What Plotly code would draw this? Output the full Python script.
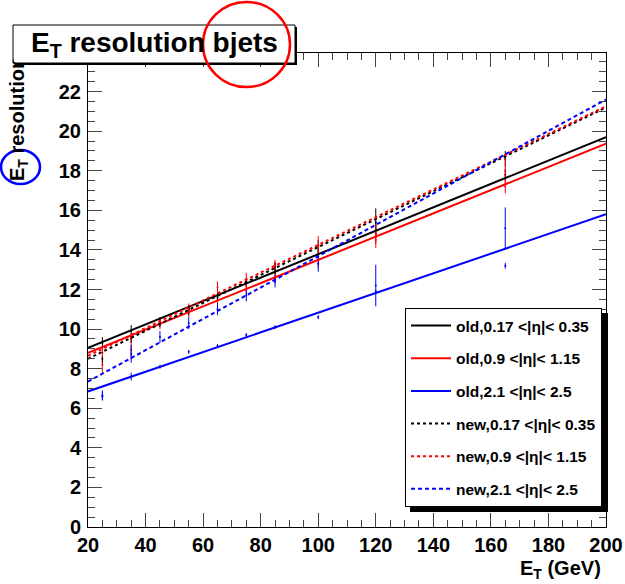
import plotly.graph_objects as go

# ---------------- data ----------------
fit_x = [20, 200]
fit_old_black = [9.05, 19.7]
fit_old_red = [8.8, 19.37]
fit_old_blue = [6.85, 15.8]
fit_new_black = [8.5, 21.2]
fit_new_red = [8.65, 21.26]
fit_new_blue = [7.35, 21.6]

pt_x = [25, 35, 45, 55, 65, 75, 85, 100, 120, 165]
pt_old_black = [9.3, 9.9, 10.4, 11.0, 11.6, 12.3, 13.0, 13.8, 15.0, 17.8]
err_old_black = [0.3, 0.3, 0.2, 0.2, 0.2, 0.25, 0.35, 0.3, 0.4, 0.3]
pt_old_red = [8.2, 8.95, 10.3, 10.9, 11.5, 12.0, 12.6, 13.5, 14.5, 17.2]
err_old_red = [0.4, 0.5, 0.3, 0.3, 0.25, 0.3, 0.3, 0.4, 0.4, 0.35]
pt_old_blue = [6.65, 7.6, 8.1, 8.85, 9.15, 9.7, 10.1, 10.6, 11.9, 13.2]
err_old_blue = [0.25, 0.2, 0.1, 0.1, 0.1, 0.1, 0.1, 0.1, 0.1, 0.15]
pt_new_black = [8.5, 9.5, 10.3, 10.9, 11.7, 12.4, 13.1, 14.2, 15.4, 18.6]
err_new_black = [0.2, 0.2, 0.2, 0.2, 0.2, 0.2, 0.3, 0.3, 0.7, 0.4]
pt_new_red = [8.8, 9.6, 10.4, 11.1, 12.1, 12.5, 13.2, 14.2, 14.8, 18.0]
err_new_red = [0.2, 0.2, 0.2, 0.2, 0.3, 0.35, 0.3, 0.5, 0.5, 0.65]
pt_new_blue = [6.6, 8.75, 9.6, 10.3, 11.0, 11.7, 12.4, 13.3, 12.2, 15.1]
err_new_blue = [0.2, 0.45, 0.3, 0.3, 0.3, 0.3, 0.3, 0.4, 1.05, 1.05]

labels = ["old,0.17 <|η|< 0.35", "old,0.9 <|η|< 1.15", "old,2.1 <|η|< 2.5",
          "new,0.17 <|η|< 0.35", "new,0.9 <|η|< 1.15", "new,2.1 <|η|< 2.5"]

x_ticks = [20, 40, 60, 80, 100, 120, 140, 160, 180, 200]
y_ticks = [0, 2, 4, 6, 8, 10, 12, 14, 16, 18, 20, 22]

FONT = "Liberation Sans"

series = [
    (fit_old_black, pt_old_black, err_old_black, "#000000", "solid"),
    (fit_old_red, pt_old_red, err_old_red, "#ff0000", "solid"),
    (fit_old_blue, pt_old_blue, err_old_blue, "#0000ff", "solid"),
    (fit_new_black, pt_new_black, err_new_black, "#000000", "3px,3px"),
    (fit_new_red, pt_new_red, err_new_red, "#ff0000", "3px,3px"),
    (fit_new_blue, pt_new_blue, err_new_blue, "#0000ff", "4px,3px"),
]

fig = go.Figure()
for i, (fit, pts, err, col, dash) in enumerate(series):
    fig.add_trace(go.Scatter(
        x=pt_x, y=pts, mode="markers",
        marker=dict(size=2, color=col),
        error_y=dict(type="data", array=err, visible=True, color=col, thickness=1, width=0),
        showlegend=False, hoverinfo="skip"))
for i, (fit, pts, err, col, dash) in enumerate(series):
    fig.add_trace(go.Scatter(
        x=fit_x, y=fit, mode="lines", name=labels[i],
        line=dict(color=col, width=2, dash=dash),
        legendgroup=str(i), showlegend=True))

def px_x(p):
    return (p - 88) / 518.0

def px_y(p):
    return (527 - p) / 474.0

shapes = [
    # title box shadow + box
    dict(type="rect", xref="paper", yref="paper", x0=px_x(15), x1=px_x(297), y0=px_y(65), y1=px_y(27),
         fillcolor="black", line=dict(width=0), layer="above"),
    dict(type="rect", xref="paper", yref="paper", x0=px_x(13), x1=px_x(295), y0=px_y(63), y1=px_y(25),
         fillcolor="white", line=dict(color="black", width=1), layer="above"),
    # legend shadow
    dict(type="rect", xref="paper", yref="paper", x0=px_x(410), x1=px_x(608), y0=px_y(512), y1=px_y(313),
         fillcolor="black", line=dict(width=0), layer="above"),
    # highlight circles
    dict(type="circle", xref="paper", yref="paper", x0=px_x(203), x1=px_x(290), y0=px_y(87), y1=px_y(2),
         line=dict(color="#ff0000", width=2.5), layer="above"),
    dict(type="circle", xref="paper", yref="paper", x0=px_x(1), x1=px_x(40), y0=px_y(184), y1=px_y(150),
         line=dict(color="#0000ff", width=2.5), layer="above"),
]

annotations = [
    dict(text="<b>E<sub>T</sub> resolution</b>", xref="paper", yref="paper",
         x=px_x(18), y=px_y(183), xanchor="center", yanchor="bottom", textangle=-90,
         showarrow=False, font=dict(family=FONT, size=20, color="black")),
    dict(text=" ", xref="paper", yref="paper", x=px_x(22), y=px_y(44), xanchor="center", yanchor="middle",
         width=16, height=36, bgcolor="white", borderpad=0, borderwidth=0, showarrow=False),
    dict(text="<b>E<sub>T</sub> resolution bjets</b>", xref="paper", yref="paper",
         x=px_x(154), y=px_y(45), xanchor="center", yanchor="middle",
         showarrow=False, font=dict(family=FONT, size=28, color="black")),
    dict(text="<b>E<sub>T</sub> (GeV)</b>", xref="paper", yref="paper",
         x=px_x(603), y=px_y(569), xanchor="right", yanchor="middle",
         showarrow=False, font=dict(family=FONT, size=20, color="black")),
]

axis_common = dict(
    showline=True, linecolor="black", linewidth=1, mirror="allticks",
    ticks="inside", ticklen=14, tickwidth=1, tickcolor="#444",
    showgrid=False, zeroline=False, automargin=False,
    tickfont=dict(family=FONT, size=20, color="black", weight="bold"),
)

fig.update_layout(
    width=625, height=584,
    margin=dict(l=88, r=19, t=53, b=57, autoexpand=False),
    paper_bgcolor="white", plot_bgcolor="white",
    xaxis=dict(range=[20, 200], tickvals=x_ticks, ticktext=[str(v) for v in x_ticks],
               minor=dict(dtick=5, ticklen=7, ticks="inside", tickcolor="#444"), ticklabelstandoff=0,
               **axis_common),
    yaxis=dict(range=[0, 23.95], tickvals=y_ticks, ticktext=[str(v) for v in y_ticks],
               minor=dict(dtick=0.5, ticklen=7, ticks="inside", tickcolor="#444"), ticklabelstandoff=2,
               **axis_common),
    legend=dict(x=px_x(405), y=px_y(308), xanchor="left", yanchor="top",
                bgcolor="white", bordercolor="black", borderwidth=1,
                font=dict(family=FONT, size=15.5, color="black", weight="bold"),
                tracegroupgap=9.5, traceorder="grouped", itemwidth=40),
    shapes=shapes, annotations=annotations, showlegend=True,
)

fig.write_html("out.html")
